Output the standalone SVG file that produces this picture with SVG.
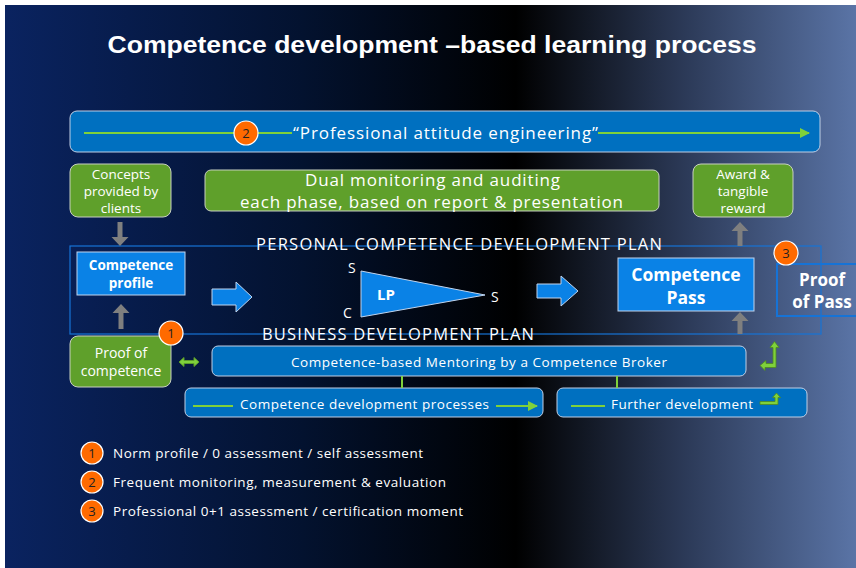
<svg xmlns="http://www.w3.org/2000/svg" width="856" height="568" viewBox="0 0 856 568">
<defs>
<linearGradient id="bg" x1="0" y1="0" x2="1" y2="0">
<stop offset="0" stop-color="#0a2360"/>
<stop offset="0.35" stop-color="#03122f"/>
<stop offset="0.6" stop-color="#000000"/>
<stop offset="0.8" stop-color="#2c3a58"/>
<stop offset="1" stop-color="#5a74a6"/>
</linearGradient>
<marker id="gh" viewBox="0 0 10 10" refX="9" refY="5" markerWidth="10" markerHeight="10" markerUnits="userSpaceOnUse" orient="auto">
<path d="M0,0 L10,5 L0,10 z" fill="#7fd13b"/>
</marker>
</defs>
<style>
text{font-family:"Open Sans","Liberation Sans",sans-serif;fill:#ffffff}
.green{fill:#5fa02b;stroke:#c8d0c0;stroke-width:1}
.blue{fill:#0070c0;stroke:#c0cfe6;stroke-width:1}
.bright{fill:#0a82e6;stroke:#c0d4ee;stroke-width:1}
.gl{stroke:#7fd13b;stroke-width:2;fill:none}
.gray{fill:#7f7f7f}
.circ{fill:#ff6a00;stroke:#ffffff;stroke-width:1.2}
.num{fill:#222222;font-size:13px;text-anchor:middle}
.c{text-anchor:middle}
.b{font-weight:bold}
.barrow{fill:#0a82e6;stroke:#c0d4ee;stroke-width:1}
</style>
<rect x="5" y="5" width="851" height="563" fill="url(#bg)"/>
<text x="432" y="53" class="c b" style="font-family:'Liberation Sans',sans-serif;font-size:23px" textLength="649" lengthAdjust="spacingAndGlyphs">Competence development –based learning process</text>

<g id="attitude">
<rect x="70" y="111" width="750" height="41" rx="7" class="blue"/>
<line x1="84" y1="133" x2="235" y2="133" class="gl"/>
<line x1="257" y1="133" x2="292" y2="133" class="gl"/>
<text x="293" y="139" style="font-size:17px" textLength="305">“Professional attitude engineering”</text>
<line x1="598" y1="133" x2="809" y2="133" class="gl" marker-end="url(#gh)"/>
<circle cx="246" cy="133" r="12" class="circ"/>
<text x="246" y="138" class="num">2</text>
</g>

<g id="concepts">
<rect x="70" y="164" width="101" height="53" rx="8" class="green"/>
<text class="c" style="font-size:13.5px"><tspan x="121" y="179">Concepts</tspan><tspan x="121" y="196">provided by</tspan><tspan x="121" y="213">clients</tspan></text>
</g>

<g id="dual">
<rect x="205" y="170" width="454" height="41" rx="6" class="green"/>
<text x="305" y="186" style="font-size:17px" textLength="255">Dual monitoring and auditing</text>
<text x="240" y="208" style="font-size:17px" textLength="383">each phase, based on report &amp; presentation</text>
</g>

<g id="award">
<rect x="693" y="164" width="100" height="53" rx="8" class="green"/>
<text class="c" style="font-size:13.5px"><tspan x="743" y="179">Award &amp;</tspan><tspan x="743" y="196">tangible</tspan><tspan x="743" y="213">reward</tspan></text>
</g>

<g id="plan">
<rect x="70" y="246" width="751" height="88" fill="none" stroke="#1673d6" stroke-width="1.2"/>
<text x="256" y="250" style="font-size:16.5px" textLength="406">PERSONAL COMPETENCE DEVELOPMENT PLAN</text>
<text x="262" y="340" style="font-size:16.5px" textLength="272">BUSINESS DEVELOPMENT PLAN</text>
</g>

<g id="profile">
<rect x="77" y="252" width="108" height="43" class="bright"/>
<text class="c b" style="font-size:13.5px"><tspan x="131" y="270">Competence</tspan><tspan x="131" y="288">profile</tspan></text>
</g>

<g id="lp">
<polygon points="361,271 361,317 485,295" class="bright"/>
<text x="377" y="300" class="b" style="font-size:15px">LP</text>
<text x="348" y="273" style="font-size:14px">S</text>
<text x="343" y="318" style="font-size:14px">C</text>
<text x="491" y="302" style="font-size:14px">S</text>
</g>

<g id="pass">
<rect x="618" y="258" width="136" height="53" class="bright"/>
<text class="c b" style="font-size:17.5px"><tspan x="686" y="281">Competence</tspan><tspan x="686" y="304">Pass</tspan></text>
</g>

<g id="proofpass">
<rect x="777" y="264" width="85" height="52" fill="none" stroke="#1673d6" stroke-width="2"/>
<text class="c b" style="font-size:17px"><tspan x="822" y="286">Proof</tspan><tspan x="822" y="308">of Pass</tspan></text>
<circle cx="786" cy="253" r="12" class="circ"/>
<text x="786" y="258" class="num">3</text>
</g>

<g id="proofcomp">
<rect x="70" y="336" width="101" height="51" rx="8" class="green"/>
<text class="c" style="font-size:14px"><tspan x="121" y="358">Proof of</tspan><tspan x="121" y="376">competence</tspan></text>
<circle cx="171" cy="333" r="12" class="circ"/>
<text x="171" y="338" class="num">1</text>
</g>

<g id="mentoring">
<rect x="212" y="346" width="534" height="30" rx="6" class="blue"/>
<text x="479" y="367" class="c" style="font-size:13.5px" textLength="376">Competence-based Mentoring by a Competence Broker</text>
</g>

<g id="cdp">
<rect x="185" y="388" width="358" height="29" rx="6" class="blue"/>
<line x1="193" y1="406" x2="233" y2="406" class="gl"/>
<text x="240" y="409" style="font-size:13.5px" textLength="249">Competence development processes</text>
<line x1="496" y1="406" x2="537" y2="406" class="gl" marker-end="url(#gh)"/>
</g>

<g id="further">
<rect x="557" y="388" width="250" height="29" rx="6" class="blue"/>
<line x1="571" y1="406" x2="605" y2="406" class="gl"/>
<text x="611" y="409" style="font-size:13.5px" textLength="142">Further development</text>
</g>

<g id="connectors">
<path d="M117.5,222 h5 v15 h6 l-8.5,9 l-8.5,-9 h6 z" class="gray"/>
<path d="M118.5,329 h5 v-16 h6 l-8.5,-9 l-8.5,9 h6 z" class="gray"/>
<path d="M737.5,246 h5 v-15 h6 l-8.5,-9 l-8.5,9 h6 z" class="gray"/>
<path d="M737.5,334 h5 v-13 h6 l-8.5,-9 l-8.5,9 h6 z" class="gray"/>
<path d="M212,289 h24 v-7 l16,15 l-16,15 v-7 h-24 z" class="barrow"/>
<path d="M537,284 h24 v-8 l17,15 l-17,15 v-8 h-24 z" class="barrow"/>
<path d="M179,362 l5,-4.5 v3 h10 v-3 l5,4.5 l-5,4.5 v-3 h-10 v3 z" fill="#7fd13b" stroke="#5a9a2a" stroke-width="1"/>
<line x1="402" y1="376" x2="402" y2="388" class="gl"/>
<line x1="617" y1="376" x2="617" y2="388" class="gl"/>
<path d="M760,365.5 l6,-5 v3 h7 v-16 h-3 l4.5,-6 l4.5,6 h-3 v20 h-11 v3 z" fill="#7fd13b" stroke="#4e8a20" stroke-width="0.8"/>
<path d="M760,401.5 h15 v-4 h-2.5 l4,-4.5 l4,4.5 h-2.5 v7 h-18 z" fill="#7fd13b" stroke="#4e8a20" stroke-width="0.8"/>
</g>

<g id="legend">
<circle cx="92" cy="453" r="11" class="circ"/>
<text x="92" y="458" class="num">1</text>
<text x="113" y="458" style="font-size:13.5px" textLength="310">Norm profile / 0 assessment / self assessment</text>
<circle cx="92" cy="482" r="11" class="circ"/>
<text x="92" y="487" class="num">2</text>
<text x="113" y="487" style="font-size:13.5px" textLength="333">Frequent monitoring, measurement &amp; evaluation</text>
<circle cx="92" cy="511" r="11" class="circ"/>
<text x="92" y="516" class="num">3</text>
<text x="113" y="516" style="font-size:13.5px" textLength="350">Professional 0+1 assessment / certification moment</text>
</g>
</svg>
